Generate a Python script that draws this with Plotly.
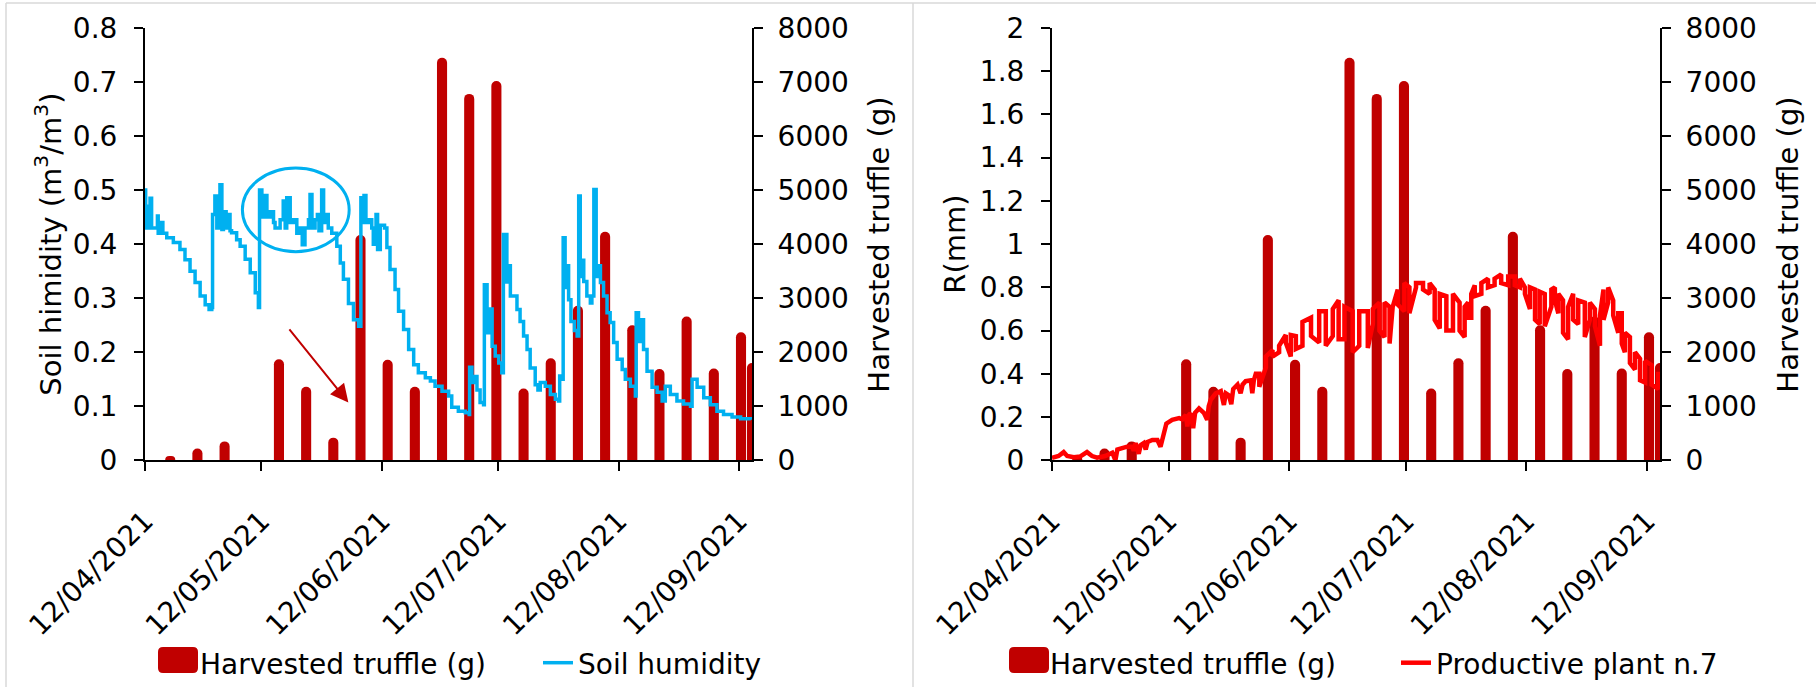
import pandas as pd
import plotly.graph_objects as go

START = pd.Timestamp("2021-04-12")

# ---------------- data ----------------
harvest_dates = ["2021-04-18 12:00", "2021-04-25 12:00", "2021-05-02 12:00", "2021-05-16 12:00",
                 "2021-05-23 12:00", "2021-05-30 12:00", "2021-06-06 12:00", "2021-06-13 12:00",
                 "2021-06-20 12:00", "2021-06-27 12:00", "2021-07-04 12:00", "2021-07-11 12:00",
                 "2021-07-18 12:00", "2021-07-25 12:00", "2021-08-01 12:00", "2021-08-08 12:00",
                 "2021-08-15 12:00", "2021-08-22 12:00", "2021-08-29 12:00", "2021-09-05 12:00",
                 "2021-09-12 12:00", "2021-09-15 08:00"]
harvest_g = [80, 220, 350, 1870, 1360, 420, 4170, 1860, 1360, 7450, 6780, 7020,
             1330, 1890, 2860, 4230, 2500, 1690, 2660, 1700, 2370, 1800]

# soil humidity (days since 12/04/2021, m3/m3)
hum_day = [0.0, 0.17, 0.6, 1.1, 1.3, 1.7, 2.1, 3.2, 3.4, 4.0, 4.6, 5.6, 7.3, 9.0, 10.3, 11.6,
           12.9, 14.2, 15.5, 16.5, 17.2, 17.4, 18.0, 18.5, 18.9, 19.3, 19.8, 20.2, 20.9, 21.5,
           21.9, 22.3, 23.6, 24.5, 25.8, 27.1, 28.4, 29.2, 29.5, 30.1, 30.5, 31.4, 32.2, 33.1,
           33.5, 34.8, 35.6, 36.1, 36.5, 37.4, 38.2, 39.1, 39.9, 40.5, 41.2, 42.1, 42.5, 43.0,
           43.8, 44.4, 44.8, 45.5, 46.0, 46.4, 47.2, 48.1, 49.4, 50.3, 51.1, 52.4, 53.7, 55.0,
           55.6, 56.0, 56.4, 56.9, 57.6, 58.4, 58.8, 59.5, 59.9, 60.6, 61.7, 62.3, 63.1, 64.4,
           65.3, 66.6, 67.9, 69.2, 70.4, 72.2, 73.5, 74.7, 76.5, 78.2, 79.0, 80.7, 82.5, 83.5,
           83.6, 84.2, 84.6, 85.5, 86.3, 87.2, 87.4, 88.1, 88.5, 89.4, 90.2, 91.1, 91.9, 92.3,
           93.2, 93.6, 94.1, 94.9, 95.8, 96.6, 97.5, 98.4, 99.2, 100.5, 101.2, 101.8, 103.1,
           104.4, 105.7, 106.5, 106.8, 107.4, 107.7, 108.2, 108.5, 109.1, 109.7, 110.6, 111.3,
           111.7, 112.1, 112.5, 113.0, 113.8, 114.7, 115.1, 115.6, 116.2, 116.6, 117.3, 118.1,
           119.0, 119.8, 120.7, 121.6, 122.9, 123.7, 125.0, 126.3, 126.5, 127.1, 127.6, 128.4,
           129.3, 130.6, 131.9, 133.2, 134.0, 135.3, 137.0, 138.7, 140.5, 140.9, 142.2, 143.9,
           145.6, 147.3, 149.0, 151.2, 153.4, 156.0]
hum_val = [0.50, 0.43, 0.47, 0.43, 0.485, 0.43, 0.43, 0.452, 0.42, 0.44, 0.42, 0.412, 0.403, 0.39,
           0.371, 0.35, 0.329, 0.304, 0.288, 0.279, 0.283, 0.455, 0.489, 0.43, 0.47, 0.51, 0.427,
           0.46, 0.43, 0.455, 0.425, 0.421, 0.408, 0.396, 0.372, 0.347, 0.31, 0.283, 0.50, 0.45,
           0.49, 0.45, 0.46, 0.44, 0.43, 0.445, 0.48, 0.43, 0.486, 0.44, 0.445, 0.42, 0.43, 0.399,
           0.43, 0.445, 0.492, 0.43, 0.445, 0.455, 0.425, 0.50, 0.44, 0.455, 0.43, 0.42, 0.396,
           0.365, 0.335, 0.29, 0.26, 0.248, 0.486, 0.44, 0.49, 0.44, 0.445, 0.43, 0.40, 0.455,
           0.39, 0.435, 0.43, 0.394, 0.353, 0.316, 0.276, 0.242, 0.205, 0.177, 0.162, 0.153,
           0.147, 0.137, 0.128, 0.119, 0.098, 0.091, 0.088, 0.085, 0.172, 0.144, 0.155, 0.13,
           0.107, 0.103, 0.325, 0.236, 0.28, 0.211, 0.193, 0.18, 0.162, 0.418, 0.33, 0.36, 0.304,
           0.304, 0.279, 0.257, 0.23, 0.205, 0.171, 0.14, 0.13, 0.144, 0.137, 0.122, 0.113, 0.11,
           0.156, 0.15, 0.412, 0.32, 0.36, 0.297, 0.257, 0.24, 0.23, 0.489, 0.34, 0.37, 0.331,
           0.304, 0.291, 0.304, 0.501, 0.34, 0.36, 0.329, 0.304, 0.273, 0.255, 0.218, 0.187,
           0.168, 0.15, 0.137, 0.119, 0.273, 0.22, 0.26, 0.205, 0.165, 0.135, 0.126, 0.11, 0.137,
           0.122, 0.11, 0.104, 0.10, 0.15, 0.135, 0.116, 0.103, 0.091, 0.085, 0.08, 0.077, 0.075]

# R (mm) of productive plant n.7: days since 12/04/2021, upper and lower edge of the noisy trace
r_day = [0.0, 1.7, 3.0, 3.9, 5.6, 7.3, 9.0, 10.3, 11.6, 13.7, 15.5, 16.3, 16.8, 18.0, 19.3, 20.6,
         21.0, 21.5, 22.3, 22.8, 23.6, 24.1, 24.6, 25.8, 27.1, 27.9, 28.4, 28.8, 29.4, 30.9, 32.7,
         33.5, 34.4, 34.8, 35.2, 35.6, 36.3, 36.8, 37.8, 39.1, 39.9, 40.3, 40.8, 42.1, 43.4, 44.2,
         44.7, 45.5, 46.1, 46.6, 47.7, 48.5, 49.0, 49.8, 51.1, 51.5, 51.9, 52.4,
         53.3, 55.0, 56.7, 58.4, 60.1, 61.4, 62.7, 64.4, 66.6, 68.7, 70.4, 72.2, 73.7, 75.2, 77.3,
         79.0, 81.2, 82.5, 84.2, 85.5, 86.8, 87.6, 88.9, 90.6, 91.9, 93.6, 95.4, 97.1, 98.4, 99.7,
         101.4, 103.1, 104.8, 106.1, 107.0, 107.8, 108.7, 110.4, 112.1, 113.8, 115.5, 117.3,
         119.0, 120.3, 121.6, 122.9, 124.2, 125.4, 126.7, 128.4, 129.3, 130.2, 131.4, 132.7,
         134.0, 135.3, 137.0, 138.3, 139.6, 140.9, 141.8, 143.0, 144.3, 145.6, 146.5, 147.3,
         148.6, 149.9, 151.2, 152.5, 154.2, 155.9]
r_hi = [0.012, 0.02, 0.038, 0.02, 0.014, 0.018, 0.038, 0.02, 0.012, 0.02, 0.035, 0.0, 0.05, 0.055,
        0.063, 0.063, 0.045, 0.08, 0.03, 0.07, 0.08, 0.05, 0.085, 0.094, 0.094, 0.063, 0.1, 0.11,
        0.17, 0.187, 0.195, 0.19, 0.21, 0.157, 0.21, 0.218, 0.149, 0.22, 0.24, 0.218, 0.187, 0.25,
        0.28, 0.31, 0.32, 0.256, 0.31, 0.30, 0.26, 0.33, 0.35, 0.31, 0.35, 0.366, 0.37, 0.31, 0.37,
        0.40,
        0.40, 0.48, 0.51, 0.53, 0.58, 0.58, 0.575, 0.64, 0.66, 0.69, 0.69, 0.70, 0.74, 0.71, 0.69,
        0.69, 0.69, 0.70, 0.73, 0.73, 0.71, 0.71, 0.79, 0.82, 0.80, 0.82, 0.82, 0.82, 0.79, 0.77,
        0.76, 0.77, 0.73, 0.71, 0.73, 0.77, 0.81, 0.82, 0.84, 0.84, 0.86, 0.85, 0.85, 0.84, 0.80,
        0.80, 0.79, 0.78, 0.77, 0.79, 0.80, 0.77, 0.74, 0.71, 0.77, 0.74, 0.73, 0.73, 0.70, 0.67,
        0.79, 0.80, 0.74, 0.68, 0.68, 0.59, 0.57, 0.50, 0.47, 0.46, 0.44, 0.41]
r_lo = [0.012, 0.02, 0.038, 0.02, 0.014, 0.018, 0.038, 0.02, 0.012, 0.02, 0.035, 0.0, 0.05, 0.055,
        0.063, 0.063, 0.045, 0.08, 0.03, 0.07, 0.08, 0.05, 0.085, 0.094, 0.094, 0.063, 0.1, 0.11,
        0.17, 0.187, 0.195, 0.19, 0.21, 0.157, 0.21, 0.218, 0.149, 0.22, 0.24, 0.218, 0.187, 0.25,
        0.28, 0.31, 0.32, 0.256, 0.31, 0.30, 0.26, 0.33, 0.35, 0.31, 0.35, 0.366, 0.37, 0.31, 0.37,
        0.40,
        0.34, 0.43, 0.48, 0.50, 0.545, 0.48, 0.515, 0.53, 0.575, 0.545, 0.53, 0.575, 0.56, 0.56,
        0.50, 0.53, 0.52, 0.63, 0.60, 0.57, 0.54, 0.68, 0.72, 0.69, 0.68, 0.80, 0.79, 0.77, 0.65,
        0.61, 0.60, 0.60, 0.60, 0.57, 0.66, 0.66, 0.76, 0.77, 0.80, 0.81, 0.82, 0.81, 0.81, 0.80,
        0.77, 0.70, 0.65, 0.63, 0.62, 0.71, 0.74, 0.68, 0.59, 0.56, 0.65, 0.63, 0.57, 0.65, 0.62,
        0.53, 0.65, 0.73, 0.67, 0.59, 0.54, 0.50, 0.45, 0.42, 0.37, 0.36, 0.35, 0.33]

tick_dates = ["2021-04-12", "2021-05-12", "2021-06-12", "2021-07-12", "2021-08-12", "2021-09-12"]
tick_labels = ["12/04/2021", "12/05/2021", "12/06/2021", "12/07/2021", "12/08/2021", "12/09/2021"]

assert len(hum_day) == len(hum_val)
assert len(r_day) == len(r_hi) == len(r_lo)

hum_x = START + pd.to_timedelta(hum_day, unit="D")
rx, ry = [], []
for i, (d, hi, lo) in enumerate(zip(r_day, r_hi, r_lo)):
    t = START + pd.Timedelta(days=d)
    rx += [t, t]
    ry += [hi, lo] if i % 2 == 0 else [lo, hi]

# ---------------- layout helpers ----------------
W, H = 1816, 688
def px(x):
    return x / W
def py(y):
    return 1 - y / H

FONT = "DejaVu Sans, Verdana, sans-serif"
DARKRED = "#c00000"
BLUE = "#00b0f0"
RED = "#ff0000"
DAY_MS = 86400000
TICK_SIZE = 28
TITLE_SIZE = 29

bar_marker = dict(color=DARKRED, line=dict(width=0, color=DARKRED))

fig = go.Figure()
fig.add_trace(go.Bar(x=harvest_dates, y=harvest_g, width=2.6 * DAY_MS, marker=bar_marker,
                     name="Harvested truffle (g)", xaxis="x", yaxis="y", legend="legend",
                     showlegend=True))
fig.add_trace(go.Scatter(x=hum_x, y=hum_val, mode="lines", name="Soil humidity",
                         line=dict(color=BLUE, width=3.5, shape="hv"),
                         xaxis="x", yaxis="y2", legend="legend2", showlegend=True))
fig.add_trace(go.Bar(x=harvest_dates, y=harvest_g, width=2.6 * DAY_MS, marker=bar_marker,
                     name="Harvested truffle (g)", xaxis="x2", yaxis="y3", legend="legend3",
                     showlegend=True))
fig.add_trace(go.Scatter(x=rx, y=ry, mode="lines", name="Productive plant n.7",
                         line=dict(color=RED, width=4.5),
                         xaxis="x2", yaxis="y4", legend="legend4", showlegend=True))

axis_common = dict(showline=True, linecolor="black", linewidth=2, ticks="outside", ticklen=9,
                   tickwidth=2, tickcolor="black", showgrid=False, zeroline=False,
                   tickfont=dict(size=TICK_SIZE, family=FONT, color="black"), automargin=False)
xcommon = dict(type="date", range=["2021-04-12", "2021-09-15 08:00"], tickvals=tick_dates,
               ticktext=tick_labels, tickangle=-45, ticklabelstandoff=22, **axis_common)
ydom = [py(461), py(28)]

fig.update_layout(
    template="none",
    width=W, height=H, margin=dict(l=0, r=0, t=0, b=0),
    paper_bgcolor="white", plot_bgcolor="white",
    font=dict(family=FONT, color="black"),
    showlegend=True,
    barcornerradius=5,
    xaxis=dict(domain=[px(145), px(752)], anchor="y", **xcommon),
    yaxis=dict(domain=ydom, anchor="x", side="right", range=[0, 8000], dtick=1000, tickformat="d",
               ticklabelstandoff=9, **axis_common),
    yaxis2=dict(overlaying="y", anchor="x", side="left", range=[0, 0.8], dtick=0.1,
                ticklabelstandoff=11, **axis_common),
    xaxis2=dict(domain=[px(1052), px(1660)], anchor="y3", **xcommon),
    yaxis3=dict(domain=ydom, anchor="x2", side="right", range=[0, 8000], dtick=1000, tickformat="d",
                ticklabelstandoff=9, **axis_common),
    yaxis4=dict(overlaying="y3", anchor="x2", side="left", range=[0, 2], dtick=0.2,
                ticklabelstandoff=11, **axis_common),
)

leg = dict(orientation="h", xanchor="left", yanchor="middle", bgcolor="rgba(0,0,0,0)",
           borderwidth=0, font=dict(size=TICK_SIZE, family=FONT, color="black"))
fig.update_layout(
    legend=dict(x=px(160), y=py(664), **leg),
    legend2=dict(x=px(538), y=py(664), **leg),
    legend3=dict(x=px(1010), y=py(664), **leg),
    legend4=dict(x=px(1396), y=py(664), **leg),
)

# larger rounded key blocks behind the bar legend symbols (as in the reference)
def rounded_block(x0, x1, y0, y1, r=5):
    X = lambda v: f"{px(v):.6f}"
    Y = lambda v: f"{py(v):.6f}"
    return (f"M{X(x0 + r)},{Y(y0)} L{X(x1 - r)},{Y(y0)} Q{X(x1)},{Y(y0)} {X(x1)},{Y(y0 + r)} "
            f"L{X(x1)},{Y(y1 - r)} Q{X(x1)},{Y(y1)} {X(x1 - r)},{Y(y1)} "
            f"L{X(x0 + r)},{Y(y1)} Q{X(x0)},{Y(y1)} {X(x0)},{Y(y1 - r)} "
            f"L{X(x0)},{Y(y0 + r)} Q{X(x0)},{Y(y0)} {X(x0 + r)},{Y(y0)} Z")

for bx0, bx1 in [(158, 198), (1009, 1049)]:
    fig.add_shape(type="path", xref="paper", yref="paper", path=rounded_block(bx0, bx1, 648, 674),
                  fillcolor=DARKRED, line=dict(width=0))

# axis titles (placed to match the reference exactly)
title_kw = dict(xref="paper", yref="paper", textangle=-90, showarrow=False,
                xanchor="center", yanchor="middle",
                font=dict(size=TITLE_SIZE, family=FONT, color="black"))
fig.add_annotation(x=px(48), y=py(245), text="Soil himidity (m<sup>3</sup>/m<sup>3</sup>)", **title_kw)
fig.add_annotation(x=px(879), y=py(245), text="Harvested truffle (g)", **title_kw)
fig.add_annotation(x=px(955), y=py(245), text="R(mm)", **title_kw)
fig.add_annotation(x=px(1788), y=py(245), text="Harvested truffle (g)", **title_kw)

# panel frames
frame = dict(color="#d9d9d9", width=1.5)
fig.add_shape(type="line", xref="paper", yref="paper", x0=px(6), x1=1, y0=py(3), y1=py(3), line=frame)
fig.add_shape(type="line", xref="paper", yref="paper", x0=px(6), x1=px(6), y0=0, y1=py(3), line=frame)
fig.add_shape(type="line", xref="paper", yref="paper", x0=px(913), x1=px(913), y0=0, y1=py(3), line=frame)

# highlight ellipse and arrow in the soil humidity panel
fig.add_shape(type="circle", xref="x", yref="y2", x0="2021-05-07 02:00", x1="2021-06-03 14:00",
              y0=0.386, y1=0.541, line=dict(color=BLUE, width=3))
fig.add_annotation(xref="x", yref="y2", axref="x", ayref="y2",
                   x="2021-06-03 09:00", y=0.107, ax="2021-05-18 21:00", ay=0.245,
                   text="", showarrow=True, arrowhead=2, arrowsize=1.8, arrowwidth=2,
                   arrowcolor=DARKRED)

fig.write_html("out.html", config={"displayModeBar": False},
               post_script="document.body.style.margin='0';")
